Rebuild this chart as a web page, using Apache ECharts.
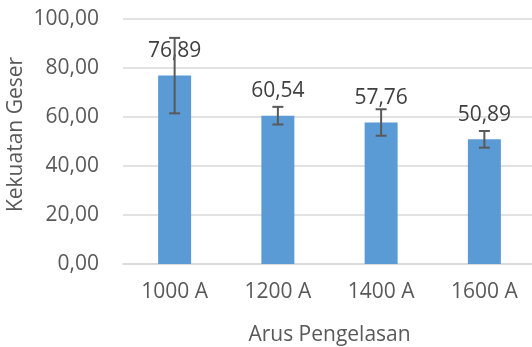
<!DOCTYPE html>
<html><head><meta charset="utf-8">
<script src="https://cdn.jsdelivr.net/npm/echarts@6/dist/echarts.min.js"></script>
<style>html,body{margin:0;padding:0;background:#fff}#c{width:532px;height:347px}</style>
</head><body><div id="c"></div>
<script>
const categories = ['1000 A', '1200 A', '1400 A', '1600 A'];
const values = [76.89, 60.54, 57.76, 50.89];
const errors = [15.4, 3.6, 5.4, 3.4];
const yTicks = { min: 0, max: 100, interval: 20 };

const fmt = v => v.toFixed(2).replace('.', ',');
const FONT = 'Open Sans';
const chart = echarts.init(document.getElementById('c'), null, { renderer: 'canvas' });
chart.setOption({
  animation: false,
  grid: { left: 123, top: 19, width: 413, height: 245, containLabel: false, outerBoundsMode: 'none' },
  xAxis: {
    type: 'category', data: categories,
    axisLine: { lineStyle: { color: '#d9d9d9', width: 1.5 } },
    axisTick: { show: false },
    axisLabel: { color: '#595959', fontFamily: FONT, fontSize: 21, margin: 18 },
    name: 'Arus Pengelasan', nameLocation: 'middle', nameGap: 61, nameMoveOverlap: false,
    nameTextStyle: { color: '#595959', fontFamily: FONT, fontSize: 21 }
  },
  yAxis: {
    type: 'value', min: yTicks.min, max: yTicks.max, interval: yTicks.interval,
    axisLine: { show: false }, axisTick: { show: false },
    splitLine: { lineStyle: { color: '#d9d9d9', width: 1.5 } },
    axisLabel: { color: '#595959', fontFamily: FONT, fontSize: 21, margin: 24, formatter: v => fmt(v) },
    name: 'Kekuatan Geser', nameLocation: 'middle', nameGap: 96, nameRotate: 90, nameMoveOverlap: false,
    nameTextStyle: { color: '#595959', fontFamily: FONT, fontSize: 21, padding: [0, 0, 0, 14] }
  },
  series: [{
    type: 'bar', data: values, barWidth: 33,
    itemStyle: { color: '#5b9bd5' },
    label: { show: true, position: 'top', distance: 14, color: '#404040', fontFamily: FONT, fontSize: 21, formatter: p => fmt(p.value) },
    z: 2
  }, {
    type: 'custom', z: 10,
    data: values.map((v, i) => [i, v - errors[i], v + errors[i]]),
    renderItem: function (params, api) {
      const lo = api.coord([api.value(0), api.value(1)]);
      const hi = api.coord([api.value(0), api.value(2)]);
      const half = 5.5;
      const st = { stroke: '#595959', lineWidth: 2 };
      return { type: 'group', children: [
        { type: 'line', shape: { x1: lo[0], y1: lo[1], x2: hi[0], y2: hi[1] }, style: st },
        { type: 'line', shape: { x1: lo[0] - half, y1: lo[1], x2: lo[0] + half, y2: lo[1] }, style: st },
        { type: 'line', shape: { x1: hi[0] - half, y1: hi[1], x2: hi[0] + half, y2: hi[1] }, style: st }
      ]};
    }
  }]
});
</script></body></html>
